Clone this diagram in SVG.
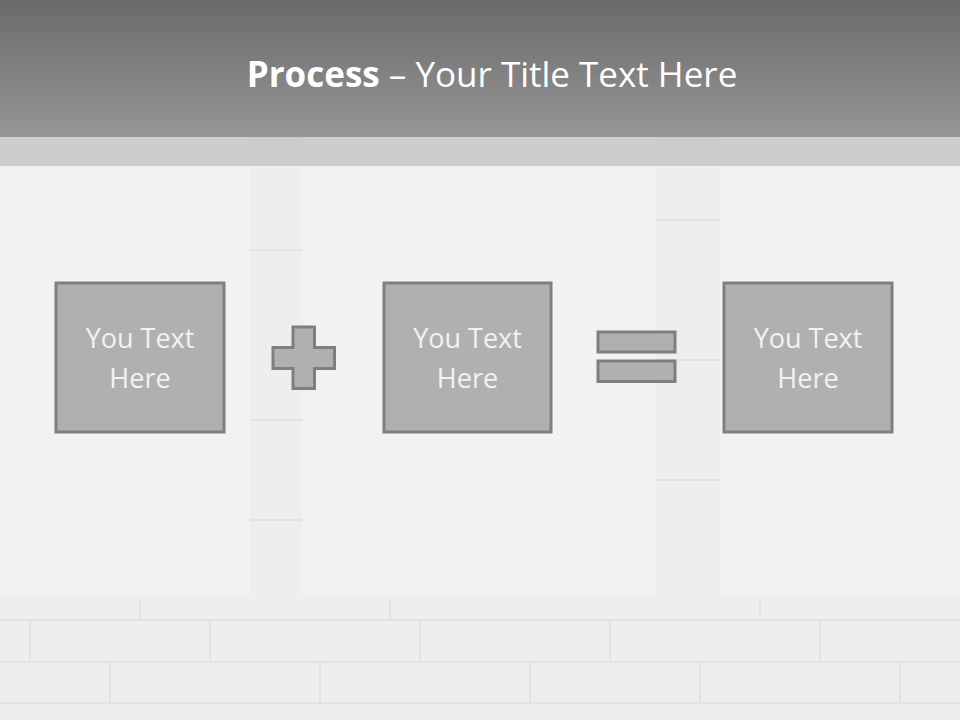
<svg xmlns="http://www.w3.org/2000/svg" width="960" height="720" viewBox="0 0 960 720">
<defs>
<linearGradient id="hdr" x1="0" y1="0" x2="0" y2="1">
<stop offset="0" stop-color="#6a6a6a"/>
<stop offset="1" stop-color="#969696"/>
</linearGradient>
<style>
.box{fill:#b0b0b0;stroke:#7f7f7f;stroke-width:3}
.sym{fill:#b0b0b0;stroke:#7f7f7f;stroke-width:3}
.lbl{font-family:"Open Sans","Liberation Sans",sans-serif;font-size:27px;fill:#f2f2f2;text-anchor:middle}
.panel{fill:#f2f2f2}
.brick{stroke:#e0e0e0;stroke-width:1.5;fill:none}
</style>
</defs>
<rect x="0" y="0" width="960" height="720" fill="#eeeeee"/>
<g class="brick">
<path d="M0 620 H960 M0 662 H960 M0 703 H960"/>
<path d="M30 620 V662 M140 600 V620 M110 662 V703 M210 620 V662 M320 662 V703 M390 600 V620 M420 620 V662 M530 662 V703 M610 620 V662 M700 662 V703 M760 600 V620 M820 620 V662 M900 662 V703"/>
<path d="M250 250 H303 M250 420 H303 M250 520 H303 M656 220 H720 M656 360 H720 M656 480 H720"/>
</g>
<rect class="panel" x="0" y="137" width="250" height="460"/>
<rect class="panel" x="303" y="137" width="353" height="460"/>
<rect class="panel" x="720" y="137" width="240" height="460"/>
<rect x="0" y="137" width="960" height="29" fill="#bdbdbd" opacity="0.7"/>
<rect x="0" y="0" width="960" height="137" fill="url(#hdr)"/>
<text x="492" y="87" text-anchor="middle" font-family="Open Sans, Liberation Sans, sans-serif" font-size="35" fill="#ffffff"><tspan font-weight="bold">Process</tspan> – Your Title Text Here</text>
<g id="node1">
<rect class="box" x="56" y="283" width="168" height="149"/>
<text class="lbl" x="140" y="348">You Text</text>
<text class="lbl" x="140" y="388">Here</text>
</g>
<g id="plus">
<path class="sym" d="M293 327 H314.5 V347.5 H334.5 V368.5 H314.5 V388.5 H293 V368.5 H273 V347.5 H293 Z"/>
</g>
<g id="node2">
<rect class="box" x="384" y="283" width="167" height="149"/>
<text class="lbl" x="467.5" y="348">You Text</text>
<text class="lbl" x="467.5" y="388">Here</text>
</g>
<g id="equals">
<rect class="sym" x="598" y="332" width="77" height="20"/>
<rect class="sym" x="598" y="361" width="77" height="20.5"/>
</g>
<g id="node3">
<rect class="box" x="724" y="283" width="168" height="149"/>
<text class="lbl" x="808" y="348">You Text</text>
<text class="lbl" x="808" y="388">Here</text>
</g>
<g id="connectors"></g>
</svg>
